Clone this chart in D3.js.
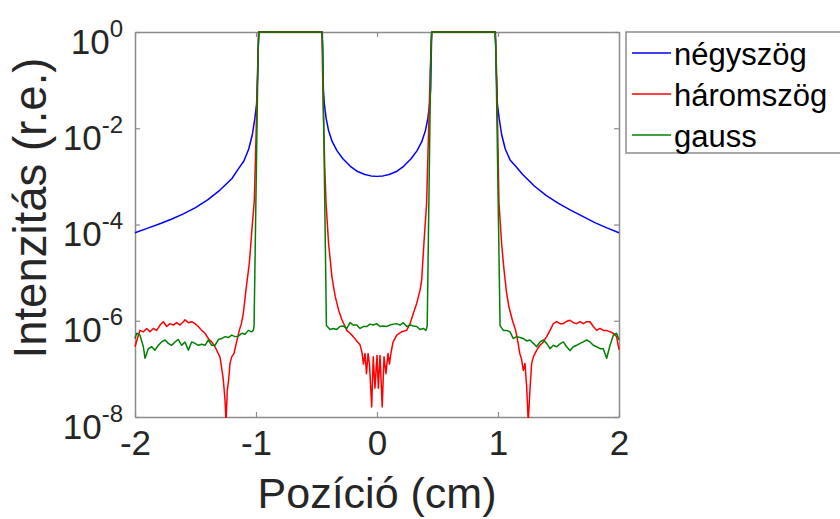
<!DOCTYPE html>
<html>
<head>
<meta charset="utf-8">
<script src="https://cdn.jsdelivr.net/npm/d3@7"></script>
<style>
  html, body { margin: 0; padding: 0; background: #ffffff; }
  svg { display: block; }
  text { font-family: "Liberation Sans", Arial, Helvetica, sans-serif; }
</style>
</head>
<body>
<svg id="chart" width="840" height="519"></svg>
<script>
// ---------------- data (x in cm, intensities stored as log10 exponents) ----------------
const seriesNames = ["négyszög", "háromszög", "gauss"];
const seriesColors = ["#0000ff", "#ff0000", "#008000"];

const xTickValues = [-2, -1, 0, 1, 2];
const yTickExponents = [0, -2, -4, -6, -8];

// négyszög (blue)
const negyszogX = [-2.0,-1.9,-1.8,-1.7,-1.6,-1.5,-1.4,-1.3,-1.2,-1.15,-1.1,-1.06,-1.03,-1.01,-0.995,-0.985,-0.978,
  -0.7,-0.452,-0.443,-0.435,-0.42,-0.4,-0.37,-0.33,-0.28,-0.22,-0.16,-0.1,-0.05,0,
  0.05,0.1,0.16,0.22,0.28,0.33,0.37,0.4,0.42,0.435,0.443,0.452,0.7,
  0.978,0.985,0.995,1.01,1.03,1.06,1.1,1.15,1.2,1.3,1.4,1.5,1.6,1.7,1.8,1.9,2.0];
const negyszogExp = [-4.17,-4.08,-3.99,-3.89,-3.78,-3.65,-3.49,-3.29,-3.05,-2.86,-2.68,-2.43,-2.13,-1.8,-1.5,-0.8,0,
  0,0,-1.2,-1.5,-1.8,-2.05,-2.28,-2.47,-2.64,-2.79,-2.9,-2.96,-2.99,-3.0,
  -2.99,-2.96,-2.9,-2.79,-2.64,-2.47,-2.28,-2.05,-1.8,-1.5,-1.2,0,0,
  0,-0.8,-1.5,-1.8,-2.13,-2.43,-2.66,-2.8,-2.95,-3.2,-3.4,-3.56,-3.7,-3.83,-3.96,-4.07,-4.17];

// háromszög (red)
const haromszogX = [-2.0,-1.98,-1.959,-1.931,-1.904,-1.876,-1.848,-1.821,-1.793,-1.766,-1.738,-1.711,-1.683,-1.656,-1.628,-1.6,-1.587,
  -1.559,-1.532,-1.504,-1.477,-1.449,-1.421,-1.394,-1.366,-1.339,-1.32,-1.298,-1.281,-1.27,-1.256,-1.248,-1.237,-1.226,-1.215,
  -1.201,-1.182,-1.16,-1.138,-1.12,-1.105,-1.08,-1.055,-1.035,-1.014,-1.0,-0.988,-0.978,
  -0.7,-0.455,-0.445,-0.432,-0.421,-0.4,-0.372,-0.345,-0.317,-0.29,-0.262,
  -0.25,-0.223,-0.196,-0.168,-0.14,-0.124,-0.112,-0.099,-0.087,-0.074,-0.062,-0.044,-0.031,-0.017,0.0,0.011,0.025,0.043,
  0.058,0.074,0.091,0.103,0.116,0.132,0.163,0.204,0.245,0.273,0.3,0.328,0.355,0.369,0.39,0.41,0.425,0.44,0.452,
  0.7,0.978,0.99,1.008,1.03,1.05,1.07,1.09,1.12,1.146,1.165,1.18,1.195,1.209,1.223,1.237,1.25,1.264,1.278,1.292,
  1.32,1.347,1.375,1.402,1.43,1.457,1.485,1.512,1.54,1.567,1.595,1.622,1.65,1.678,1.705,1.733,1.76,1.788,1.815,
  1.843,1.87,1.898,1.926,1.953,1.98,2.0];
const haromszogExp = [-6.54,-6.37,-6.2,-6.23,-6.16,-6.23,-6.16,-6.2,-6.09,-6.02,-6.12,-6.06,-6.09,-6.04,-6.09,-6.02,-5.98,
  -6.04,-6.02,-6.06,-6.12,-6.2,-6.26,-6.37,-6.44,-6.54,-6.64,-6.75,-7.03,-7.23,-7.65,-8.1,-7.44,-7.23,-6.89,
  -6.75,-6.68,-6.44,-6.2,-6.05,-5.85,-5.3,-4.8,-4.15,-3.5,-2.2,-0.9,0,
  0,0,-1.5,-2.8,-3.56,-4.4,-5.1,-5.5,-5.78,-5.98,-6.13,
  -6.2,-6.26,-6.33,-6.42,-6.5,-6.66,-6.9,-6.68,-7.1,-6.68,-6.9,-7.79,-6.75,-7.4,-6.72,-7.4,-6.72,-7.79,
  -6.75,-7.1,-6.68,-6.9,-6.66,-6.45,-6.3,-6.23,-6.2,-6.06,-5.85,-5.64,-5.37,-5.16,-4.3,-3.56,-2.2,-0.8,0,
  0,0,-1.0,-3.56,-4.4,-4.95,-5.4,-5.71,-6.0,-6.2,-6.45,-6.68,-6.8,-7.03,-6.89,-7.37,-8.1,-7.44,-6.89,-6.75,
  -6.61,-6.51,-6.44,-6.33,-6.2,-6.06,-6.02,-6.06,-6.06,-6.01,-5.99,-6.04,-6.06,-6.02,-6.06,-6.02,-6.02,-6.12,-6.2,
  -6.16,-6.2,-6.2,-6.23,-6.26,-6.33,-6.6];

// gauss (green)
const gaussX = [-2.0,-1.986,-1.959,-1.931,-1.917,-1.89,-1.862,-1.835,-1.807,-1.78,-1.752,-1.725,-1.697,-1.669,-1.642,-1.614,-1.587,
  -1.559,-1.532,-1.504,-1.477,-1.449,-1.421,-1.394,-1.366,-1.339,-1.311,-1.284,-1.256,-1.229,-1.201,-1.174,-1.146,-1.118,
  -1.091,-1.063,-1.036,-1.022,-1.016,-0.982,-0.975,
  -0.455,-0.449,-0.418,-0.388,-0.361,-0.333,-0.306,-0.278,-0.25,-0.223,-0.196,-0.168,-0.14,-0.113,-0.085,-0.058,-0.03,-0.003,
  0.025,0.052,0.08,0.107,0.135,0.163,0.19,0.218,0.245,0.273,0.3,0.328,0.355,0.383,0.405,0.415,0.446,0.452,
  0.975,0.982,1.017,1.044,1.072,1.099,1.127,1.154,1.182,1.209,1.237,1.264,1.292,1.32,1.347,1.375,1.402,1.43,1.457,
  1.485,1.512,1.54,1.567,1.595,1.622,1.65,1.678,1.705,1.733,1.76,1.788,1.815,1.843,1.87,1.898,1.926,1.953,1.98,2.0];
const gaussExp = [-6.37,-6.26,-6.3,-6.54,-6.78,-6.58,-6.54,-6.61,-6.51,-6.44,-6.4,-6.47,-6.51,-6.44,-6.39,-6.51,-6.44,
  -6.61,-6.44,-6.47,-6.51,-6.49,-6.51,-6.4,-6.51,-6.51,-6.39,-6.37,-6.33,-6.35,-6.3,-6.33,-6.32,-6.26,
  -6.28,-6.2,-6.23,-6.2,-6.1,-0.3,0,
  0,-0.3,-6.1,-6.18,-6.16,-6.18,-6.12,-6.11,-6.16,-6.04,-6.09,-6.09,-6.16,-6.12,-6.12,-6.07,-6.09,-6.06,
  -6.12,-6.11,-6.12,-6.09,-6.07,-6.06,-6.09,-6.04,-6.12,-6.09,-6.11,-6.12,-6.18,-6.16,-6.2,-6.1,-0.3,0,
  0,-0.3,-6.1,-6.2,-6.2,-6.23,-6.37,-6.33,-6.35,-6.37,-6.42,-6.4,-6.47,-6.54,-6.44,-6.4,-6.47,-6.58,-6.51,
  -6.54,-6.48,-6.44,-6.54,-6.62,-6.54,-6.51,-6.47,-6.44,-6.4,-6.44,-6.51,-6.54,-6.58,-6.58,-6.78,-6.51,-6.3,-6.26,-6.4];

// ---------------- drawing ----------------
const svg = d3.select("#chart");
const plot = { left: 135, right: 619, top: 32, bottom: 417 };
const axisColor = "#8c8c8c";
const textColor = "#262626";

const x = d3.scaleLinear().domain([-2, 2]).range([plot.left, plot.right]);
const y = d3.scaleLog().domain([1e-8, 1]).range([plot.bottom, plot.top]);

svg.append("defs").append("clipPath").attr("id", "clip")
  .append("rect")
  .attr("x", plot.left - 1).attr("y", plot.top - 2)
  .attr("width", plot.right - plot.left + 2).attr("height", plot.bottom - plot.top + 3);

const series = [
  { xs: negyszogX, es: negyszogExp },
  { xs: haromszogX, es: haromszogExp },
  { xs: gaussX, es: gaussExp }
].map((s, i) => ({
  name: seriesNames[i],
  color: seriesColors[i],
  points: s.xs.map((xv, j) => [xv, Math.pow(10, s.es[j])])
}));

// axes (inward ticks, box)
const fmt = d => String(d);
const gx = svg.append("g").attr("transform", `translate(0,${plot.bottom})`)
  .call(d3.axisBottom(x).tickValues(xTickValues).tickFormat(fmt).tickSizeInner(-5).tickSizeOuter(0).tickPadding(13));
const gxTop = svg.append("g").attr("transform", `translate(0,${plot.top})`)
  .call(d3.axisTop(x).tickValues(xTickValues).tickFormat("").tickSizeInner(-5).tickSizeOuter(0));
const yTickValues = yTickExponents.map(e => Math.pow(10, e));
const gy = svg.append("g").attr("transform", `translate(${plot.left},0)`)
  .call(d3.axisLeft(y).tickValues(yTickValues).tickFormat("").tickSizeInner(-5).tickSizeOuter(0));
const gyRight = svg.append("g").attr("transform", `translate(${plot.right},0)`)
  .call(d3.axisRight(y).tickValues(yTickValues).tickFormat("").tickSizeInner(-5).tickSizeOuter(0));

[gx, gxTop, gy, gyRight].forEach(g => {
  g.select(".domain").attr("stroke", axisColor).attr("stroke-width", 1.5);
  g.selectAll(".tick line").attr("stroke", axisColor).attr("stroke-width", 1.2);
});
gx.selectAll(".tick text")
  .attr("fill", textColor)
  .style("font-size", "35px");

// y tick labels 10^e
gy.selectAll(".tick").each(function(d) {
  const e = Math.round(Math.log10(d));
  const t = d3.select(this).select("text")
    .attr("x", -12).attr("dy", null).attr("y", 21)
    .attr("fill", textColor)
    .attr("text-anchor", "end")
    .style("font-size", "35px");
  t.text(null);
  t.append("tspan").text("10");
  t.append("tspan").attr("dy", -17).style("font-size", "24px").text(String(e));
});

// data lines, drawn above the axes box
const line = d3.line().x(d => x(d[0])).y(d => y(d[1]));
svg.append("g").attr("clip-path", "url(#clip)")
  .selectAll("path").data(series).join("path")
  .attr("d", d => line(d.points))
  .attr("fill", "none")
  .attr("stroke", d => d.color)
  .attr("stroke-width", 1.5)
  .attr("stroke-linejoin", "round");

// axis titles
svg.append("text")
  .attr("x", (plot.left + plot.right) / 2).attr("y", 508)
  .attr("text-anchor", "middle")
  .attr("fill", textColor)
  .style("font-size", "43px")
  .text("Pozíció (cm)");

svg.append("text")
  .attr("transform", `translate(46,208) rotate(-90)`)
  .attr("text-anchor", "middle")
  .attr("fill", textColor)
  .style("font-size", "45.5px")
  .text("Intenzitás (r.e.)");

// legend
const lg = svg.append("g");
lg.append("rect")
  .attr("x", 626).attr("y", 32).attr("width", 260).attr("height", 121)
  .attr("fill", "#ffffff").attr("stroke", axisColor).attr("stroke-width", 1.5);
const rowY = [53, 94, 135];
series.forEach((s, i) => {
  lg.append("line")
    .attr("x1", 632).attr("x2", 671)
    .attr("y1", rowY[i]).attr("y2", rowY[i])
    .attr("stroke", s.color).attr("stroke-width", 1.5);
  lg.append("text")
    .attr("x", 674).attr("y", rowY[i] + 12)
    .attr("fill", "#000000")
    .style("font-size", "31px")
    .text(s.name);
});
</script>
</body>
</html>
